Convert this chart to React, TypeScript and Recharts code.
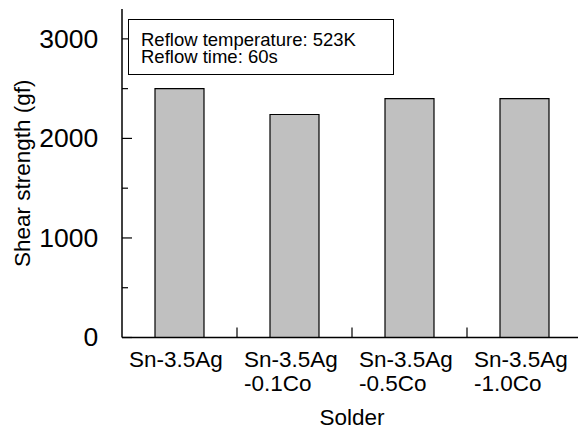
import React from 'react';
import { BarChart, Bar, XAxis, YAxis, Label } from 'recharts';

const solderLine1 = ['Sn-3.5Ag', 'Sn-3.5Ag', 'Sn-3.5Ag', 'Sn-3.5Ag'];
const solderLine2 = ['', '-0.1Co', '-0.5Co', '-1.0Co'];
const shearStrength = [2500, 2240, 2400, 2400];
const yTicks = [0, 500, 1000, 1500, 2000, 2500, 3000];
const yMajorTicks = [0, 1000, 2000, 3000];
const yDomain = [0, 3300];
const annotationLines = ['Reflow temperature: 523K', 'Reflow time: 60s'];

const data = solderLine1.map((l1, i) => ({
  name: l1 + (solderLine2[i] ? ' ' + solderLine2[i] : ''),
  l1,
  l2: solderLine2[i],
  strength: shearStrength[i],
}));

const FONT = '"Liberation Sans", Arial, Helvetica, sans-serif';

const halfBand = (props: any) => {
  const p = props.payload || {};
  if (typeof p.offset === 'number' && p.offset > 0) return p.offset;
  return props.width / (props.visibleTicksCount || 4) / 2;
};

const BottomTick = (props: any) => {
  const { x, y, index } = props;
  const d = data[index] || { l1: '', l2: '' };
  const hb = halfBand(props);
  const sx = x - 50.5;
  return (
    <g>
      {index < data.length - 1 && (
        <line x1={x + hb} y1={y} x2={x + hb} y2={y - 10} stroke="#000" strokeWidth={1.2} />
      )}
      <text x={sx} y={y + 29.2} fontSize={22.5} fontFamily={FONT} fill="#000" textAnchor="start">
        {d.l1}
      </text>
      {d.l2 && (
        <text x={sx} y={y + 53.2} fontSize={22.5} fontFamily={FONT} fill="#000" textAnchor="start">
          {d.l2}
        </text>
      )}
    </g>
  );
};

const TopTick = (props: any) => {
  const { x, y, index } = props;
  const hb = halfBand(props);
  if (index >= data.length - 1) return <g />;
  return <line x1={x + hb} y1={y} x2={x + hb} y2={y + 10} stroke="#000" strokeWidth={1.2} />;
};

const LeftTick = (props: any) => {
  const { x, y, payload } = props;
  const major = yMajorTicks.includes(payload.value);
  return (
    <g>
      <line x1={x} y1={y} x2={x + (major ? 10 : 6)} y2={y} stroke="#000" strokeWidth={1.2} />
      {major && (
        <text x={x - 23.7} y={y + 8.8} fontSize={26.5} fontFamily={FONT} fill="#000" textAnchor="end">
          {payload.value}
        </text>
      )}
    </g>
  );
};

const RightTick = (props: any) => {
  const { x, y, payload } = props;
  const major = yMajorTicks.includes(payload.value);
  return <line x1={x - (major ? 10 : 6)} y1={y} x2={x} y2={y} stroke="#000" strokeWidth={1.2} />;
};

export default function App() {
  return (
    <div
      style={{
        position: 'fixed',
        left: 0,
        top: 0,
        width: 578,
        height: 430,
        overflow: 'hidden',
        background: '#fff',
      }}
    >
      <BarChart
        width={600}
        height={430}
        data={data}
        margin={{ top: 9, right: 18, bottom: 0, left: 0 }}
        barCategoryGap={0}
      >
        <XAxis
          dataKey="name"
          type="category"
          height={92.5}
          interval={0}
          tickSize={0}
          tickMargin={0}
          tickLine={false}
          axisLine={{ stroke: '#000', strokeWidth: 1.5 }}
          tick={<BottomTick />}
        >
          <Label
            content={(p: any) => {
              const vb = p.viewBox || { x: 122, y: 337.5, width: 460 };
              return (
                <text
                  x={vb.x + vb.width / 2}
                  y={vb.y + 87.5}
                  fontSize={22.5}
                  fontFamily={FONT}
                  fill="#000"
                  textAnchor="middle"
                >
                  Solder
                </text>
              );
            }}
          />
        </XAxis>
        <XAxis
          xAxisId="top"
          dataKey="name"
          type="category"
          orientation="top"
          height={0}
          interval={0}
          tickSize={0}
          tickMargin={0}
          tickLine={false}
          axisLine={{ stroke: '#000', strokeWidth: 1.5 }}
          tick={<TopTick />}
        />
        <YAxis
          type="number"
          domain={yDomain}
          ticks={yTicks}
          allowDataOverflow
          width={122}
          interval={0}
          tickSize={0}
          tickMargin={0}
          tickLine={false}
          axisLine={{ stroke: '#000', strokeWidth: 1.5 }}
          tick={<LeftTick />}
        >
          <Label
            content={(p: any) => {
              const vb = p.viewBox || { x: 0, y: 9, width: 122, height: 328.5 };
              const cx = vb.x + 30;
              const cy = vb.y + vb.height / 2;
              return (
                <text
                  x={cx}
                  y={cy}
                  transform={`rotate(-90, ${cx}, ${cy})`}
                  fontSize={22.5}
                  fontFamily={FONT}
                  fill="#000"
                  textAnchor="middle"
                >
                  Shear strength (gf)
                </text>
              );
            }}
          />
        </YAxis>
        <YAxis
          yAxisId="r"
          orientation="right"
          type="number"
          domain={yDomain}
          ticks={yTicks}
          allowDataOverflow
          width={0}
          interval={0}
          tickSize={0}
          tickMargin={0}
          tickLine={false}
          axisLine={{ stroke: '#000', strokeWidth: 1.5 }}
          tick={<RightTick />}
        />
        <Bar
          dataKey="strength"
          fill="#c0c0c0"
          stroke="#000"
          strokeWidth={1.2}
          barSize={49}
          isAnimationActive={false}
        />
      </BarChart>
      <div
        style={{
          position: 'absolute',
          left: 128,
          top: 19,
          width: 266,
          height: 56,
          boxSizing: 'border-box',
          border: '1.5px solid #000',
          background: '#fff',
          paddingLeft: 12,
          paddingTop: 11,
          fontFamily: FONT,
          fontSize: 18.5,
          lineHeight: '17px',
          color: '#000',
          whiteSpace: 'nowrap',
        }}
      >
        {annotationLines.map((t) => (
          <div key={t}>{t}</div>
        ))}
      </div>
    </div>
  );
}
